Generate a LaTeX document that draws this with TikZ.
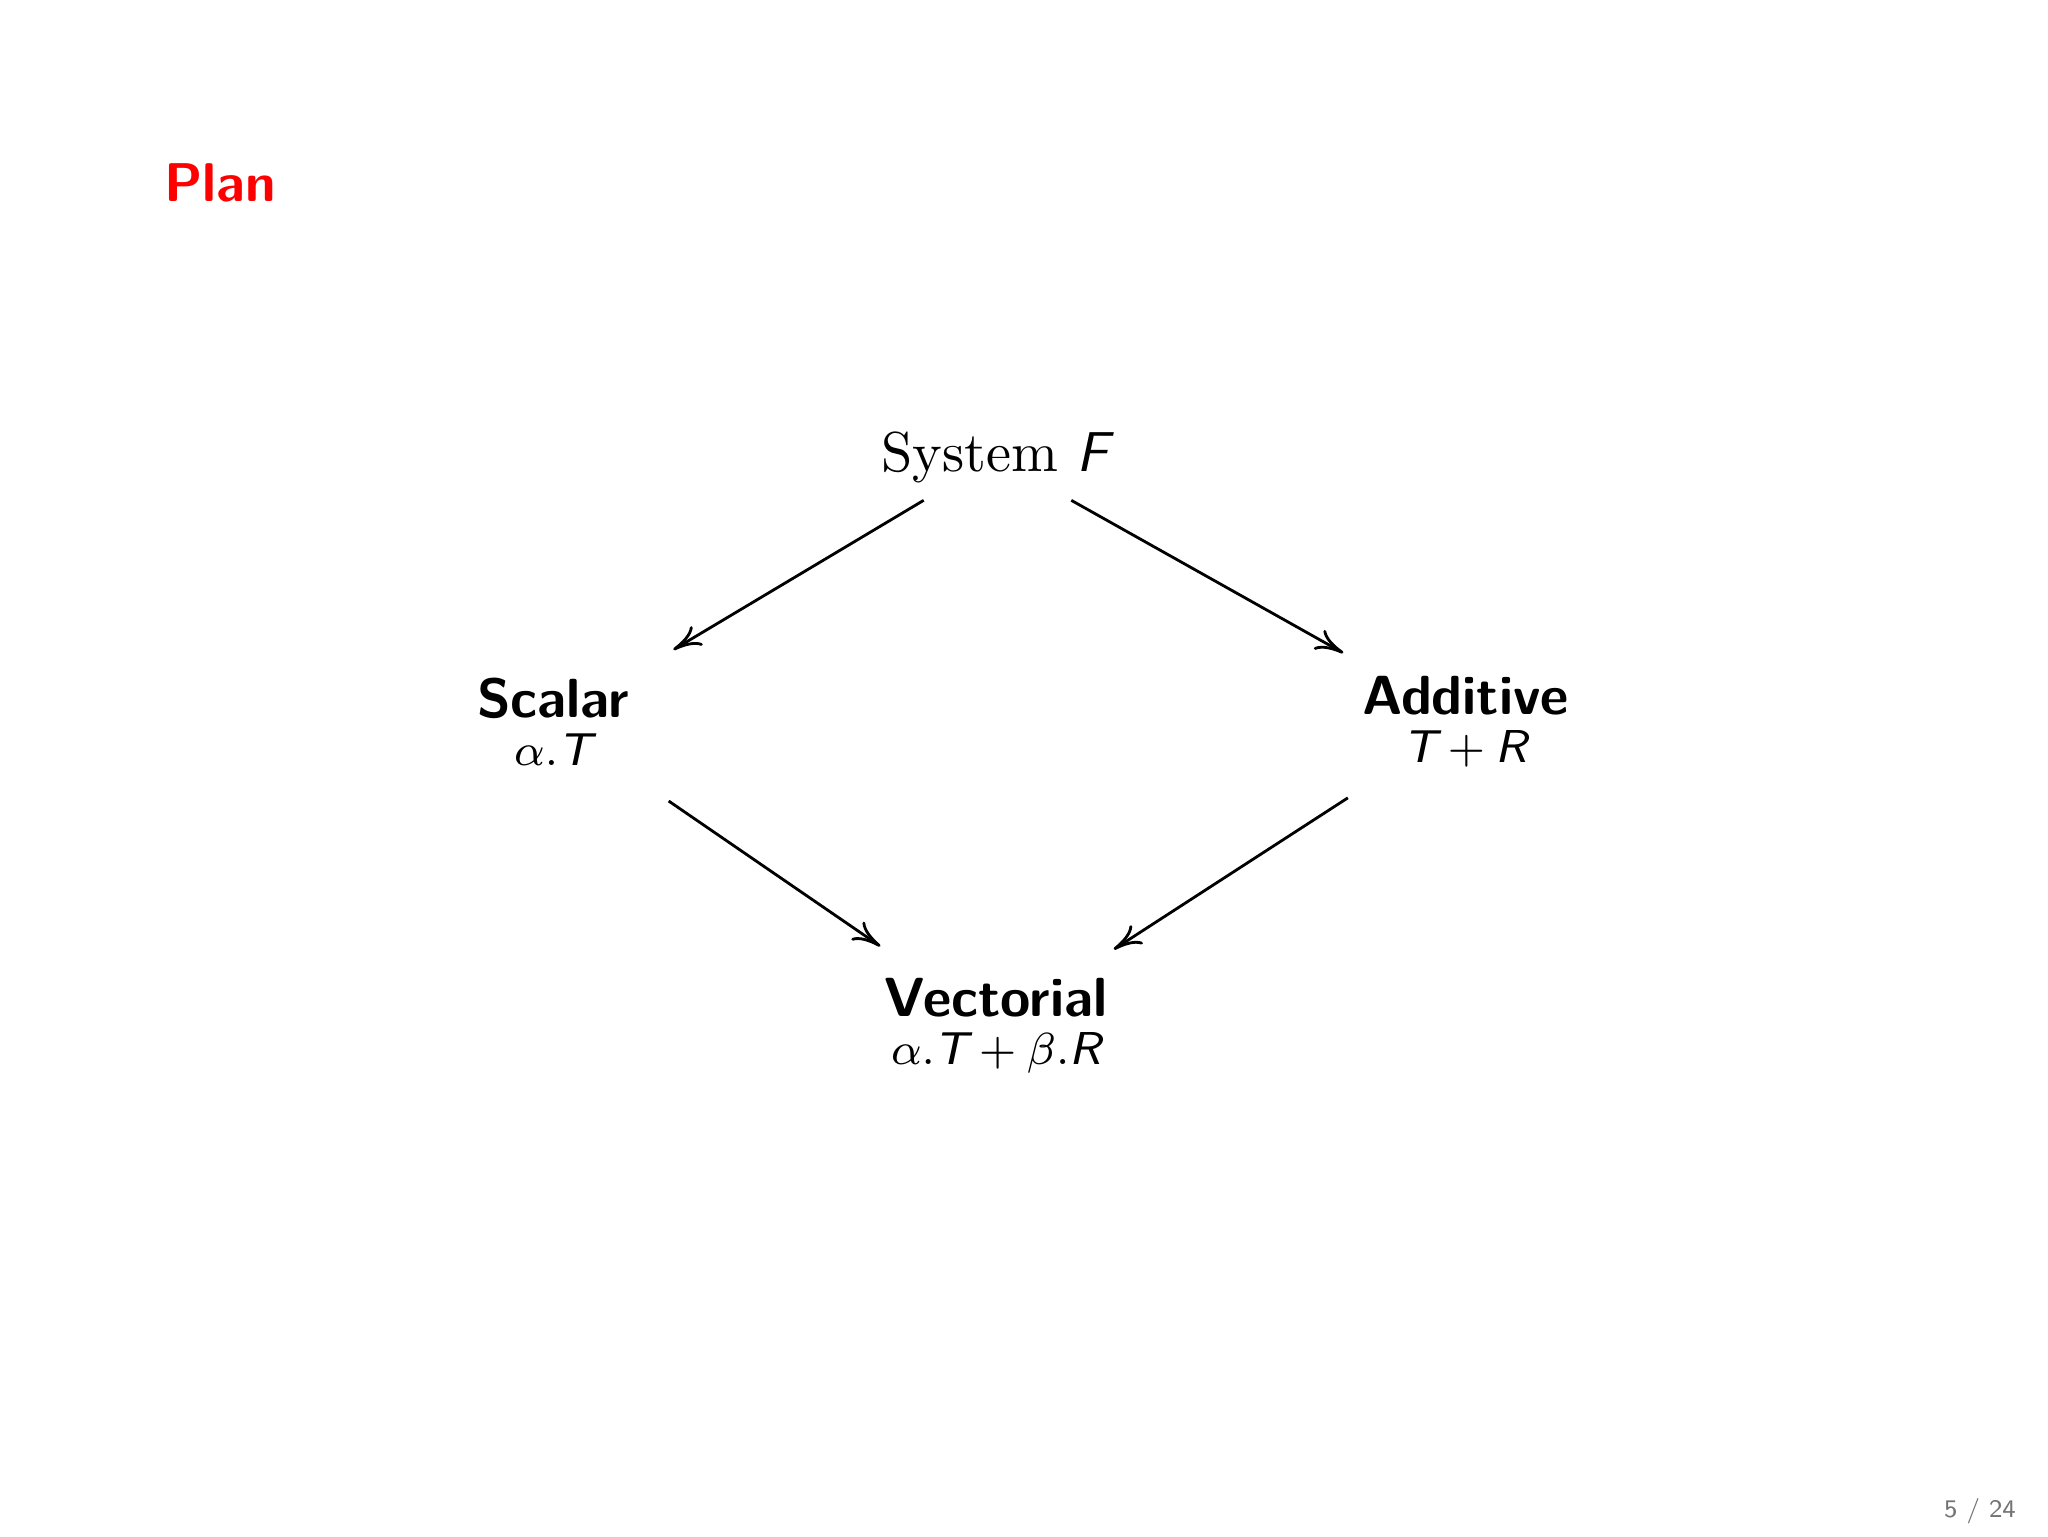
\documentclass[tikz,border=0pt]{standalone}
\usepackage{amsmath, amssymb}
\usepackage{tikz}
\usetikzlibrary{arrows.meta}

% sans slanted letters for the types
\newcommand{\sv}[1]{\textsf{\slshape #1}}
% smaller size for the second line of a node
\newcommand{\typeline}[1]{{\fontsize{8.2}{8.6}\selectfont $#1$}}

\begin{document}
\begin{tikzpicture}[
    title/.style={anchor=base west, inner sep=0pt, text=red, font=\sffamily\bfseries\fontsize{9.7}{12}\selectfont},
    level/.style={circle, minimum size=1.74cm, inner sep=0pt, align=center, font=\sffamily\fontsize{9.8}{8.6}\selectfont},
    arr/.style={-{To[length=5pt,width=4pt]}, line width=0.5pt},
    pagenum/.style={anchor=base east, inner sep=0pt, text=black!55, font=\sffamily\fontsize{4.5}{5}\selectfont}
  ]
    \useasboundingbox (0,0) rectangle (12.8,9.6);

    % Frame title
    \node[title] (plan) at (1.02,8.34) {Plan};

    % The four systems
    \node[inner ysep=0.1cm, font=\fontsize{10}{12}\selectfont] (sysf) at (6.22,6.74) {System $\sv{F}$};
    \node[level] (scalar) at (3.456,5.09) {\textbf{Scalar}\\ \typeline{\alpha.\sv{T}}};
    \node[level] (additive) at (9.16,5.09) {\textbf{Additive}\\ \typeline{\sv{T}+\sv{R}}};
    \node[level] (vectorial) at (6.225,3.19) {\textbf{Vectorial}\\ \typeline{\alpha.\sv{T}+\beta.\sv{R}}};

    % Draw arrows
    \draw[arr] (sysf) -- (scalar);
    \draw[arr] (sysf) -- (additive);
    \draw[arr] (scalar) -- (vectorial);
    \draw[arr] (additive) -- (vectorial);

    % Page number
    \node[pagenum] (page) at (12.606,0.119) {5 / 24};

  \end{tikzpicture}
\end{document}
